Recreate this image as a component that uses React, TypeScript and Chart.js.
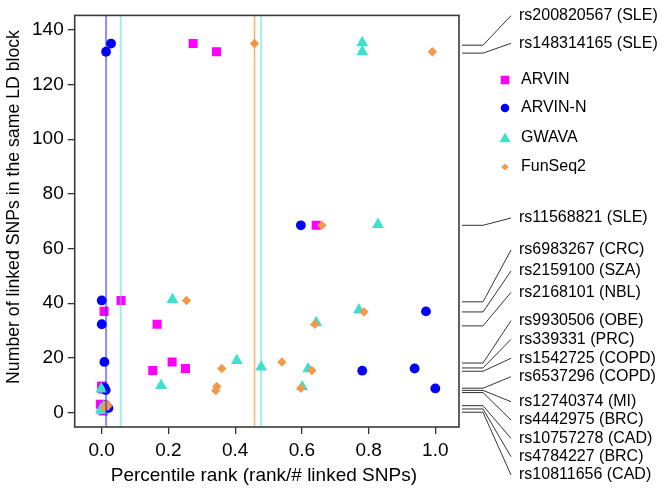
import React, { useEffect, useRef } from 'react';
import { Chart, registerables } from 'chart.js';
Chart.register(...registerables);

// ---------- data ----------
const methodNames = ['ARVIN', 'ARVIN-N', 'GWAVA', 'FunSeq2'];

// percentile rank (x) and number of linked SNPs (y), one entry per SNP (same order as snpLabels)
const arvinX = [0.274, 0.344, 0.643, 0.058, 0.007, 0.166, 0.211, 0.251, 0.153, 0.0, 0.0, 0.002, -0.004, 0.0, 0.004];
const arvinY = [135, 132, 68.5, 41, 37, 32.3, 18.5, 16.1, 15.4, 9.7, 9.2, 8.6, 3.0, 1.5, 0.6];
const arvinNX = [0.028, 0.013, 0.597, 0.0, 0.972, 0.0, 0.008, 0.938, 0.781, 0.008, 0.012, 1.0, 0.012, 0.02, 0.004];
const arvinNY = [135, 132, 68.5, 41, 37, 32.3, 18.5, 16.1, 15.3, 9.2, 8.2, 8.8, 2.8, 1.6, 1.0];
const gwavaX = [0.781, 0.781, 0.828, 0.212, 0.771, 0.643, 0.405, 0.478, 0.619, 0.178, 0.601, -0.001, -0.002, 0.006, 0.0];
const gwavaY = [135.3, 132, 68.8, 41.3, 37.5, 32.9, 19, 16.6, 16, 9.9, 9.4, 8.6, 1.2, 2.2, 0.6];
const funseqX = [0.458, 0.991, 0.66, 0.254, 0.786, 0.639, 0.54, 0.36, 0.63, 0.345, 0.597, 0.342, 0.014, 0.018, 0.008];
const funseqY = [135, 132, 68.5, 41, 36.8, 32.3, 18.5, 16.1, 15.4, 9.5, 8.9, 8.0, 3.2, 2.4, 1.8];

const snpLabels = [
  'rs200820567 (SLE)', 'rs148314165 (SLE)', 'rs11568821 (SLE)', 'rs6983267 (CRC)',
  'rs2159100 (SZA)', 'rs2168101 (NBL)', 'rs9930506 (OBE)', 'rs339331 (PRC)',
  'rs1542725 (COPD)', 'rs6537296 (COPD)', 'rs12740374 (MI)', 'rs4442975 (BRC)',
  'rs10757278 (CAD)', 'rs4784227 (BRC)', 'rs10811656 (CAD)',
];
// linked-SNP value where each leader line starts
const snpLinked = [134.4, 131.5, 68.5, 40.5, 36.8, 31.7, 18.1, 16.3, 15.1, 8.9, 8.1, 7.3, 2.5, 1.3, 0.1];

// vertical reference lines (percentile rank)
const refLineX = [0.013, 0.057, 0.458, 0.478];

const xTicks = [0, 0.2, 0.4, 0.6, 0.8, 1.0];
const yTicks = [0, 20, 40, 60, 80, 100, 120, 140];

// ---------- layout / style ----------
const W = 662;
const H = 491;
const FONT = '"Liberation Sans", Arial, Helvetica, sans-serif';
const labelTextY = [15.7, 43.3, 218, 250, 271, 292.3, 320.7, 339.3, 358.3, 376.7, 401.7, 420, 438.3, 456.7, 475];
const colors = ['#FF00FF', '#0000FF', '#40E0D0', '#F09A4A'];
const refLineColors = ['rgba(0,0,255,0.45)', 'rgba(64,224,208,0.5)', 'rgba(238,140,50,0.65)', 'rgba(64,224,208,0.5)'];

function drawMarker(ctx: CanvasRenderingContext2D, kind: number, x: number, y: number, s: number) {
  ctx.beginPath();
  if (kind === 0) {
    ctx.rect(x - s, y - s, 2 * s, 2 * s);
  } else if (kind === 1) {
    ctx.arc(x, y, s, 0, Math.PI * 2);
  } else if (kind === 2) {
    const h = s * 1.2;
    ctx.moveTo(x, y - h);
    ctx.lineTo(x + s * 1.2, y + h * 0.75);
    ctx.lineTo(x - s * 1.2, y + h * 0.75);
    ctx.closePath();
  } else {
    ctx.moveTo(x, y - s);
    ctx.lineTo(x + s, y);
    ctx.lineTo(x, y + s);
    ctx.lineTo(x - s, y);
    ctx.closePath();
  }
  ctx.fill();
}

const decorPlugin = {
  id: 'decor',
  afterDatasetsDraw(chart: any) {
    const ctx = chart.ctx as CanvasRenderingContext2D;
    const { left, right, top, bottom } = chart.chartArea;
    const xs = chart.scales.x;
    ctx.save();
    ctx.beginPath();
    ctx.rect(left, top, right - left, bottom - top);
    ctx.clip();
    refLineX.forEach((v, i) => {
      const px = xs.getPixelForValue(v);
      ctx.strokeStyle = refLineColors[i];
      ctx.lineWidth = i === 2 ? 1.6 : 2;
      ctx.beginPath();
      ctx.moveTo(px, top);
      ctx.lineTo(px, bottom);
      ctx.stroke();
    });
    ctx.restore();
  },
  afterDraw(chart: any) {
    const ctx = chart.ctx as CanvasRenderingContext2D;
    const { left, right, top, bottom } = chart.chartArea;
    const ys = chart.scales.y;
    ctx.save();
    // box
    ctx.strokeStyle = '#3a3a3a';
    ctx.lineWidth = 1.6;
    ctx.strokeRect(left, top, right - left, bottom - top);

    // axis titles
    ctx.fillStyle = '#000';
    ctx.font = `19px ${FONT}`;
    ctx.textAlign = 'center';
    ctx.textBaseline = 'middle';
    ctx.fillText('Percentile rank (rank/# linked SNPs)', (left + right) / 2 - 3, 476);
    ctx.save();
    ctx.font = `17.7px ${FONT}`;
    ctx.translate(14, 207);
    ctx.rotate(-Math.PI / 2);
    ctx.fillText('Number of linked SNPs in the same LD block', 0, 0);
    ctx.restore();

    // leader lines + SNP labels
    ctx.font = `16px ${FONT}`;
    ctx.strokeStyle = '#333';
    ctx.lineWidth = 1;
    ctx.textAlign = 'left';
    snpLabels.forEach((lab, i) => {
      const py = ys.getPixelForValue(snpLinked[i]);
      ctx.beginPath();
      ctx.moveTo(right + 3, py);
      ctx.lineTo(483, py);
      ctx.lineTo(511, labelTextY[i]);
      ctx.stroke();
      ctx.fillText(lab, 519, labelTextY[i]);
    });

    // legend
    const legY = [80, 108, 137.5, 167];
    methodNames.forEach((name, i) => {
      ctx.fillStyle = colors[i];
      const sz = [4.3, 4.3, 4.6, 3.6][i];
      drawMarker(ctx, i, 505, legY[i] + (i === 2 ? 0.5 : 0), sz);
      ctx.fillStyle = '#000';
      ctx.fillText(name, 521, legY[i]);
    });
    ctx.restore();
  },
};

export default function App() {
  const ref = useRef<HTMLCanvasElement | null>(null);
  useEffect(() => {
    if (!ref.current) return;
    const mk = (xs: number[], ys: number[]) => xs.map((x, i) => ({ x, y: ys[i] }));
    const series = [
      { x: arvinX, y: arvinY, style: 'rect', r: 6.4 },
      { x: arvinNX, y: arvinNY, style: 'circle', r: 4.9 },
      { x: gwavaX, y: gwavaY, style: 'triangle', r: 6.9 },
      { x: funseqX, y: funseqY, style: 'rectRot', r: 4.7 },
    ];
    const chart = new Chart(ref.current, {
      type: 'scatter',
      data: {
        datasets: series.map((s, i) => ({
          label: methodNames[i],
          data: mk(s.x, s.y),
          pointStyle: s.style as any,
          pointRadius: s.r,
          pointHoverRadius: s.r,
          pointBackgroundColor: colors[i],
          pointBorderWidth: 0,
          borderWidth: 0,
          showLine: false,
          order: 4 - i,
        })),
      },
      options: {
        responsive: false,
        animation: false,
        devicePixelRatio: 1,
        layout: { padding: { left: 0, right: W - 459, top: 1, bottom: 0 } },
        plugins: { legend: { display: false }, tooltip: { enabled: false } },
        scales: {
          x: {
            type: 'linear',
            min: -0.081,
            max: 1.071,
            afterBuildTicks: (sc: any) => { sc.ticks = xTicks.map((v) => ({ value: v })); },
            afterFit: (sc: any) => { sc.height = H - 427; },
            border: { display: false },
            grid: { drawOnChartArea: false, drawTicks: true, tickLength: 7, color: '#333', lineWidth: 1.3 },
            ticks: {
              padding: 5,
              color: '#000',
              font: { family: FONT, size: 19 },
              maxRotation: 0,
              callback: (v: any) => Number(v).toFixed(1),
            },
          },
          y: {
            type: 'linear',
            min: -5.3,
            max: 145.3,
            afterBuildTicks: (sc: any) => { sc.ticks = yTicks.map((v) => ({ value: v })); },
            afterFit: (sc: any) => { sc.width = 74.7; },
            border: { display: false },
            grid: { drawOnChartArea: false, drawTicks: true, tickLength: 7, color: '#333', lineWidth: 1.3 },
            ticks: {
              padding: 4,
              color: '#000',
              font: { family: FONT, size: 19 },
              callback: (v: any) => String(v),
            },
          },
        },
      },
      plugins: [decorPlugin],
    } as any);
    return () => chart.destroy();
  }, []);
  return (
    <div style={{ position: 'absolute', left: 0, top: 0, width: W, height: H, background: '#fff' }}>
      <canvas ref={ref} width={W} height={H} style={{ display: 'block', width: W, height: H }} />
    </div>
  );
}
